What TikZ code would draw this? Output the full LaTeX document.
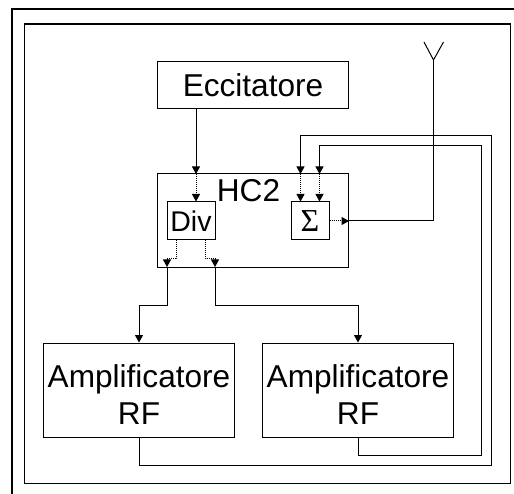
\documentclass[tikz,border=0pt]{standalone}
\usepackage{fontspec}
\setmainfont{Liberation Sans}
\newfontfamily\sigmafont{Liberation Serif}
\usetikzlibrary{positioning,arrows.meta}
\tikzset{
  block/.style={draw,line width=1pt,font=\fontsize{31.6}{37}\selectfont,align=center,inner sep=0pt},
  wire/.style={line width=1pt,-{Triangle[width=8pt,length=7.5pt]}},
  feed/.style={line width=1pt},
  inner/.style={line width=1pt,densely dotted,-{Triangle[width=8pt,length=7.5pt]}}
}
\begin{document}
\begin{tikzpicture}[x=1pt,y=-1pt]
  \useasboundingbox (0,0) rectangle (514,494);
  % Frames
  \draw[line width=2.6pt] (12,494) -- (12,9) -- (514,9);
  \draw[line width=1.2pt] (24.5,24) rectangle (510.5,483.5);
  % Blocks
  \node[block,minimum width=191pt,minimum height=47pt] (ecc) at (253,85) {Eccitatore};
  \node[block,minimum width=191pt,minimum height=94pt] (hc2) at (253,221) {};
  \node[font=\fontsize{31.6}{37}\selectfont,inner sep=0pt] (hc2label) at (248.5,190.5) {HC2};
  \node[block,minimum width=48pt,minimum height=38pt,font=\fontsize{28.5}{34}\selectfont] (div) at (191,221) {Div};
  \node[block,minimum width=38pt,minimum height=38pt,font=\fontsize{32}{38}\sigmafont] (sum) at (310,221) {Σ};
  \node[block,minimum width=191pt,minimum height=94pt] (amp1) at (139,390) {\rule{0pt}{31pt}Amplificatore\\RF};
  \node[block,minimum width=191pt,minimum height=94pt] (amp2) at (358,390) {\rule{0pt}{31pt}Amplificatore\\RF};
  % Ports on the border of HC2
  \coordinate (eccout) at (196,108.5);
  \coordinate (inhc) at (196,174);
  \coordinate (sumin1) at (300.5,174);
  \coordinate (sumin2) at (319.5,174);
  \coordinate (sumout) at (hc2.east |- sum.east);
  \coordinate (outa) at (167,267);
  \coordinate (outb) at (215,267);
  \coordinate (anttip) at (433.5,60);
  % Antenna
  \draw[feed] (424,42) -- (anttip) -- (443.5,42);
  % Inside HC2
  \draw[inner] (inhc) -- (inhc |- div.north);
  \draw[inner] (sumin1) -- (sumin1 |- sum.north);
  \draw[inner] (sumin2) -- (sumin2 |- sum.north);
  \draw[inner] (sum.east) -- (sumout);
  \draw[inner] (176.5,240) |- (167,259) -- (outa);
  \draw[inner] (205.5,240) |- (215,259) -- (outb);
  % Connections
  \draw[wire] (eccout) -- (inhc);
  \draw[feed] (sumout) -| (anttip);
  \draw[wire] (outa) -- (167,306) -| (amp1.north);
  \draw[wire] (outb) -- (215,306) -| (amp2.north);
  \draw[wire] (amp1.south) |- (491.5,465) |- (300.5,136) -- (sumin1);
  \draw[wire] (amp2.south) |- (481.5,455.5) |- (319.5,146) -- (sumin2);
\end{tikzpicture}
\end{document}
